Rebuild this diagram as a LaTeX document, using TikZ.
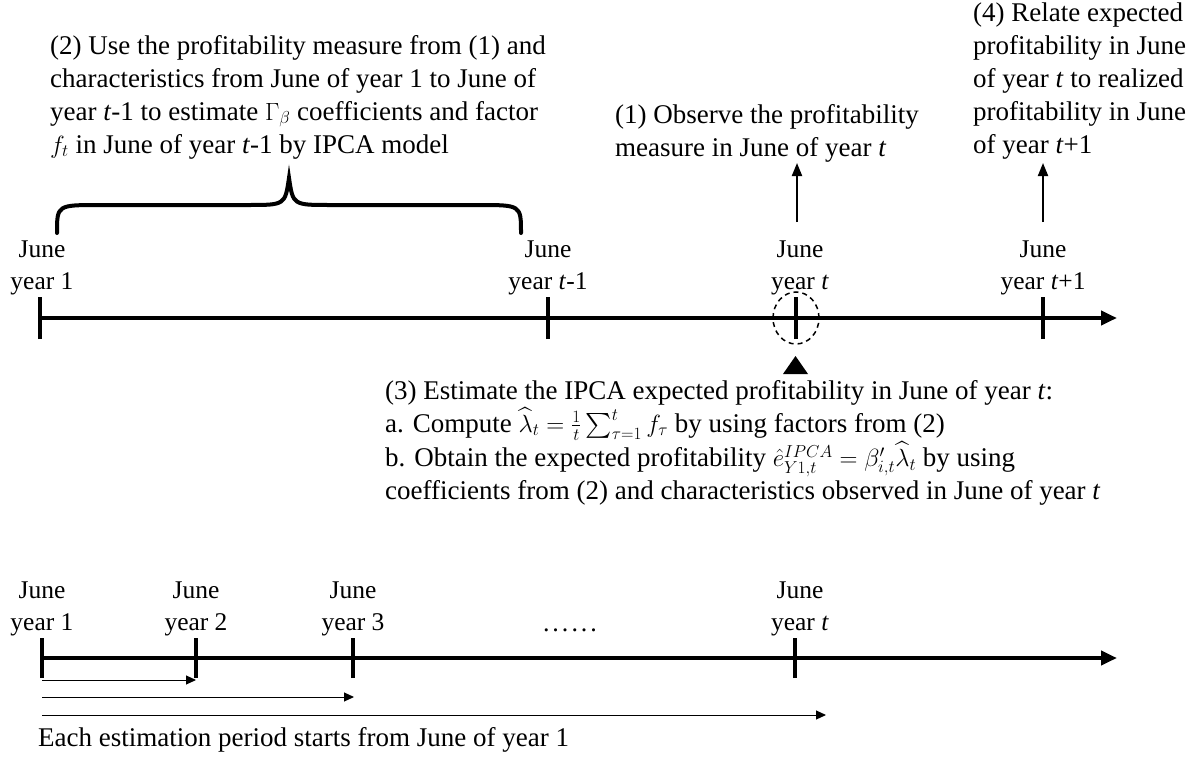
\documentclass[tikz,border=0pt]{standalone}
\usepackage{exscale}
\usepackage{fontspec}
\setmainfont{Liberation Serif}
\usetikzlibrary{arrows.meta}
\begin{document}
\begin{tikzpicture}[x=1pt,y=-1pt,
  txt/.style={font=\fontsize{27}{33}\selectfont, inner sep=0pt, align=left, anchor=north west},
  lbl/.style={font=\fontsize{25.5}{32}\selectfont, inner sep=0pt, align=center, anchor=south},
  axisline/.style={line width=4pt, -{Triangle[length=16pt,width=14pt]}},
  tickline/.style={line width=3.5pt},
  uparrow/.style={line width=2pt, -{Triangle[length=13pt,width=10pt]}},
  thinarrow/.style={line width=1pt, -{Triangle[length=10pt,width=9pt]}},
  bracestyle/.style={line width=4pt, line cap=round}]
\useasboundingbox (0,0) rectangle (1191,757);

% ---------- top timeline ----------
\coordinate (A0) at (40,318);
\coordinate (Aend) at (1117,318);
\draw[axisline] (A0) -- (Aend);
\coordinate (T1) at (40,318);
\coordinate (T2) at (548,318);
\coordinate (T3) at (796,318);
\coordinate (T4) at (1043,318);
\foreach \t in {T1,T2,T3,T4} \draw[tickline] ([yshift=-21pt]\t) -- ([yshift=21pt]\t);

\node[lbl] (L1) at (42,295) {June\\year 1};
\node[lbl] (L2) at (548,295) {June\\year \textit{t}-1};
\node[lbl] (L3) at (800,295) {June\\year \textit{t}};
\node[lbl] (L4) at (1043,295) {June\\year \textit{t}+1};

\draw[dashed, dash pattern=on 5pt off 4pt, line width=1.5pt] (T3) ellipse [x radius=23pt, y radius=26pt];

% brace
\draw[bracestyle] (57,233) .. controls (57,205) .. (100,205) -- (248,205)
  .. controls (285,205) .. (289,178) .. controls (293,205) .. (330,205)
  -- (478,205) .. controls (521,205) .. (521,233);
\coordinate (bracetip) at (289,178);

% texts
\node[txt] (t2) at (50,35) {(2) Use the profitability measure from (1) and\\
characteristics from June of year 1 to June of\\
year \textit{t}-1 to estimate $\Gamma_\beta$ coefficients and factor\\
$f_t$ in June of year \textit{t}-1 by IPCA model};

\node[txt] (t1) at (615,104) {(1) Observe the profitability\\measure in June of year \textit{t}};

\node[txt] (t4) at (973,3) {(4) Relate expected\\profitability in June\\of year \textit{t} to realized\\profitability in June\\of year \textit{t}+1};

\coordinate (a1s) at (797,222);
\coordinate (a1e) at (797,163);
\draw[uparrow] (a1s) -- (a1e);
\coordinate (a4s) at (1043,222);
\coordinate (a4e) at (1043,163);
\draw[uparrow] (a4s) -- (a4e);

% triangle marker
\fill (783,374) -- (808,374) -- (795.5,356) -- cycle;
\coordinate (tri) at (795,366);

\node[txt] (t3) at (385,380) {(3) Estimate the IPCA expected profitability in June of year \textit{t}:\\
a. Compute $\widehat{\lambda}_t=\frac{1}{t}\sum_{\tau=1}^{t} f_\tau$ by using factors from (2)\\
b. Obtain the expected profitability $\hat{e}^{IPCA}_{Y1,t}=\beta'_{i,t}\widehat{\lambda}_t$ by using\\
coefficients from (2) and characteristics observed in June of year \textit{t}};

% ---------- bottom timeline ----------
\coordinate (B0) at (40,658);
\coordinate (Bend) at (1117,658);
\draw[axisline] (B0) -- (Bend);
\coordinate (S1) at (42,658);
\coordinate (S2) at (196,658);
\coordinate (S3) at (353,658);
\coordinate (S4) at (795,658);
\foreach \t in {S1,S2,S3,S4} \draw[tickline] ([yshift=-20pt]\t) -- ([yshift=20pt]\t);

\node[lbl] (M1) at (42,636) {June\\year 1};
\node[lbl] (M2) at (196,636) {June\\year 2};
\node[lbl] (M3) at (353,636) {June\\year 3};
\node[lbl] (M4) at (800,636) {June\\year \textit{t}};
\node[font=\fontsize{26}{33}\selectfont, inner sep=0pt] (dots) at (570,630) {.\kern3pt.\kern3pt.\kern3pt.\kern3pt.\kern3pt.};

\coordinate (r1s) at (42,680);
\coordinate (r1e) at (196,680);
\coordinate (r2s) at (42,697);
\coordinate (r2e) at (354,697);
\coordinate (r3s) at (42,715);
\coordinate (r3e) at (826,715);
\draw[thinarrow] (r1s) -- (r1e);
\draw[thinarrow] (r2s) -- (r2e);
\draw[thinarrow] (r3s) -- (r3e);

\node[txt] (note) at (38,727) {Each estimation period starts from June of year 1};
\end{tikzpicture}
\end{document}
